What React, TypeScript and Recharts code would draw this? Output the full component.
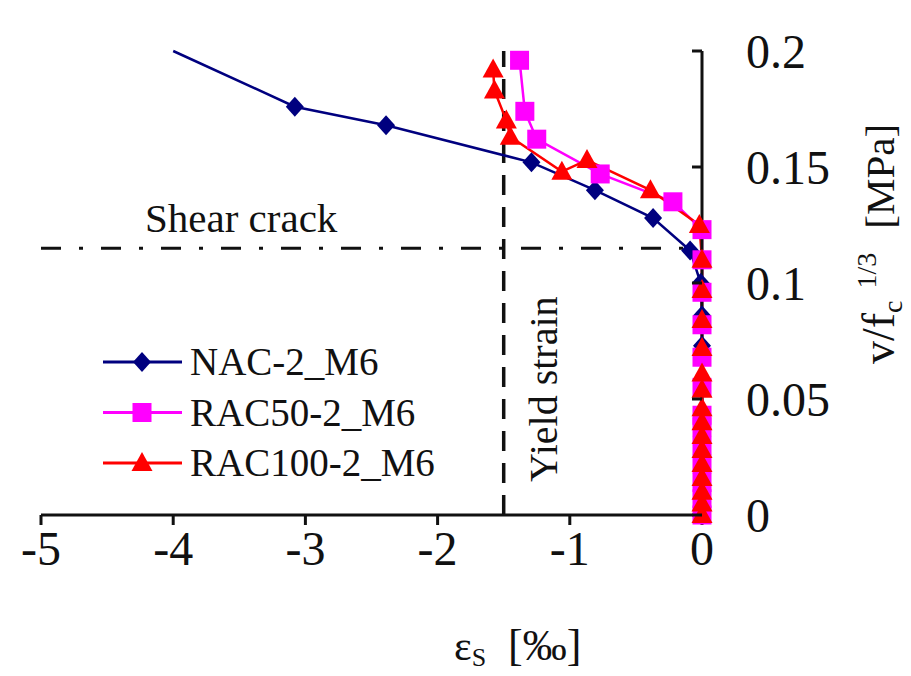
import { Legend, Line, LineChart, ReferenceLine, XAxis, YAxis } from "recharts";

const SERIF = "'Liberation Serif', 'Times New Roman', serif";
const INK = "#111";

const X_TICKS = [-5, -4, -3, -2, -1, 0];
const Y_TICKS = [0, 0.05, 0.1, 0.15, 0.2];

// NAC-2_M6 (loading order, bottom of the column first)
const NAC_X = [0, 0, 0, 0, 0, 0, 0, 0, 0, -0.01, -0.09, -0.37, -0.81, -1.29, -2.39, -3.08, -4.0];
const NAC_Y = [0.003, 0.009, 0.016, 0.023, 0.03, 0.044, 0.058, 0.073, 0.086, 0.1, 0.114, 0.128, 0.14, 0.152, 0.168, 0.176, 0.2];

// RAC50-2_M6
const RAC50_X = [0, 0, 0, 0, 0, 0, 0, 0, 0, 0, 0, 0, 0, -0.22, -0.77, -1.25, -1.34, -1.38];
const RAC50_Y = [0, 0.007, 0.014, 0.022, 0.03, 0.038, 0.043, 0.055, 0.068, 0.082, 0.096, 0.11, 0.123, 0.135, 0.147, 0.162, 0.174, 0.196];

// RAC100-2_M6
const RAC100_X = [0, 0, 0, 0, 0, 0, 0, 0, 0, 0, 0, 0, 0, 0, 0, -0.02, -0.39, -0.87, -1.06, -1.45, -1.48, -1.57, -1.58];
const RAC100_Y = [0, 0.005, 0.01, 0.016, 0.022, 0.028, 0.034, 0.04, 0.046, 0.054, 0.061, 0.072, 0.084, 0.097, 0.11, 0.125, 0.14, 0.153, 0.148, 0.163, 0.17, 0.183, 0.192];

const SHEAR_CRACK_Y = 0.115;
const SHEAR_CRACK_END_X = -0.09;
const YIELD_STRAIN_X = -1.5;

type Kind = "diamond" | "square" | "triangle";

const toPoints = (xs: number[], ys: number[]) => xs.map((x, i) => ({ x, y: ys[i] }));

const SERIES: { name: string; color: string; kind: Kind; data: { x: number; y: number }[]; hideLast?: boolean }[] = [
  { name: "NAC-2_M6", color: "#00007f", kind: "diamond", data: toPoints(NAC_X, NAC_Y), hideLast: true },
  { name: "RAC50-2_M6", color: "#ff00ff", kind: "square", data: toPoints(RAC50_X, RAC50_Y) },
  { name: "RAC100-2_M6", color: "#ff0000", kind: "triangle", data: toPoints(RAC100_X, RAC100_Y) },
];

function Marker({ kind, cx, cy, color }: { kind: Kind; cx: number; cy: number; color: string }) {
  if (kind === "diamond") {
    return <polygon points={`${cx},${cy - 10} ${cx + 9},${cy} ${cx},${cy + 10} ${cx - 9},${cy}`} fill={color} />;
  }
  if (kind === "square") {
    return <rect x={cx - 9.5} y={cy - 9.5} width={19} height={19} fill={color} />;
  }
  return <polygon points={`${cx},${cy - 11} ${cx + 10.5},${cy + 8} ${cx - 10.5},${cy + 8}`} fill={color} />;
}

const XTick = ({ x, y, payload }: any) => (
  <text x={x} y={y + 38} textAnchor="middle" fontSize={48} fontFamily={SERIF} fill={INK}>
    {payload.value}
  </text>
);

const YTick = ({ x, y, payload }: any) => (
  <g>
    <line x1={x - 10} x2={x} y1={y} y2={y} stroke={INK} strokeWidth={3} />
    <text x={x + 44} y={y + 17} textAnchor="start" fontSize={48} fontFamily={SERIF} fill={INK}>
      {payload.value}
    </text>
  </g>
);

const renderLegend = () => (
  <svg width={360} height={155} style={{ display: "block" }}>
    {SERIES.map((s, i) => {
      const cy = 25 + i * 50.5;
      return (
        <g key={s.name}>
          <line x1={3} x2={82} y1={cy} y2={cy} stroke={s.color} strokeWidth={3} />
          <Marker kind={s.kind} cx={42} cy={cy} color={s.color} />
          <text x={90} y={cy + 13} fontSize={39} fontFamily={SERIF} fill={INK}>
            {s.name}
          </text>
        </g>
      );
    })}
  </svg>
);

export default function App() {
  return (
    <div style={{ width: 911, height: 676, background: "#fff" }}>
      <style>{"body{margin:0}"}</style>
      <LineChart width={911} height={676} margin={{ top: 51, right: 9, bottom: 61, left: 41 }}>
        <XAxis
          type="number"
          dataKey="x"
          domain={[-5, 0]}
          ticks={X_TICKS}
          height={100}
          tickSize={10}
          tickMargin={2}
          axisLine={{ stroke: INK, strokeWidth: 3 }}
          tickLine={{ stroke: INK, strokeWidth: 3 }}
          tick={<XTick />}
          label={{
            content: () => (
              <text x={454} y={660} fontSize={42} fontFamily={SERIF} fill={INK}>
                ε
                <tspan fontSize={26} dy={6}>S</tspan>
                <tspan dy={-6} dx={22} fontSize={44}>[‰]</tspan>
              </text>
            ),
          }}
        />
        <YAxis
          type="number"
          dataKey="y"
          orientation="right"
          domain={[0, 0.2]}
          ticks={Y_TICKS}
          width={200}
          tickSize={0}
          tickMargin={0}
          tickLine={false}
          axisLine={{ stroke: INK, strokeWidth: 3 }}
          tick={<YTick />}
          label={{
            content: () => (
              <text x={894} y={364} transform="rotate(-90 894 364)" fontSize={46} fontFamily={SERIF} fill={INK}>
                v/f
                <tspan fontSize={28} dy={8}>c</tspan>
                <tspan fontSize={28} dy={-26} dx={12}>1/3</tspan>
                <tspan fontSize={41} dy={18} dx={24}>[MPa]</tspan>
              </text>
            ),
          }}
        />
        <ReferenceLine
          segment={[
            { x: -5, y: SHEAR_CRACK_Y },
            { x: SHEAR_CRACK_END_X, y: SHEAR_CRACK_Y },
          ]}
          stroke={INK}
          strokeWidth={3}
          strokeDasharray="20 18 4 18"
          label={{
            content: (p: any) => (
              <text x={p.viewBox.x + 104} y={p.viewBox.y - 16} fontSize={41} fontFamily={SERIF} fill={INK}>
                Shear crack
              </text>
            ),
          }}
        />
        <ReferenceLine
          segment={[
            { x: YIELD_STRAIN_X, y: 0 },
            { x: YIELD_STRAIN_X, y: 0.2 },
          ]}
          stroke={INK}
          strokeWidth={3.5}
          strokeDasharray="20 12"
          label={{
            content: (p: any) => {
              const tx = p.viewBox.x + 53;
              const ty = 482;
              return (
                <text x={tx} y={ty} transform={`rotate(-90 ${tx} ${ty})`} fontSize={40} fontFamily={SERIF} fill={INK}>
                  Yield strain
                </text>
              );
            },
          }}
        />
        {SERIES.map((s) => (
          <Line
            key={s.name}
            name={s.name}
            data={s.data}
            dataKey="y"
            type="linear"
            stroke={s.color}
            strokeWidth={2.5}
            isAnimationActive={false}
            activeDot={false}
            dot={(p: any) =>
              s.hideLast && p.index === s.data.length - 1 ? (
                <g key={`${s.name}-${p.index}`} />
              ) : (
                <g key={`${s.name}-${p.index}`}>
                  <Marker kind={s.kind} cx={p.cx} cy={p.cy} color={s.color} />
                </g>
              )
            }
          />
        ))}
        <Legend
          layout="vertical"
          align="center"
          verticalAlign="middle"
          wrapperStyle={{ left: 100, top: 337, width: 360, height: 155 }}
          content={renderLegend}
        />
      </LineChart>
    </div>
  );
}
